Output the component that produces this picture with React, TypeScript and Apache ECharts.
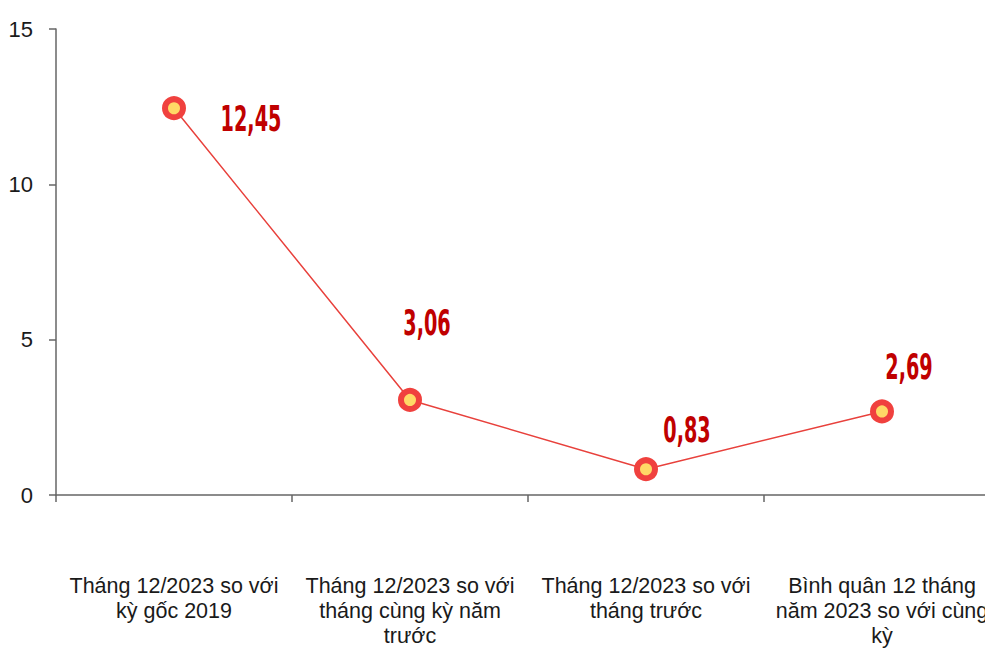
import React, { useEffect, useRef } from "react";
import * as echarts from "echarts";

const categories = [
  "Tháng 12/2023 so với\nkỳ gốc 2019",
  "Tháng 12/2023 so với\ntháng cùng kỳ năm\ntrước",
  "Tháng 12/2023 so với\ntháng trước",
  "Bình quân 12 tháng\nnăm 2023 so với cùng\nkỳ",
];
const values = [12.45, 3.06, 0.83, 2.69];
const valueLabels = ["12,45", "3,06", "0,83", "2,69"];
const yTicks = { min: 0, max: 15, interval: 5 };

// label placement (layout, not data)
const labelOffsets: [number, number][] = [
  [77, 11],
  [17, -77],
  [41, -39],
  [27, -44],
];

export default function App() {
  const ref = useRef<HTMLDivElement>(null);
  useEffect(() => {
    document.body.style.margin = "0";
    document.body.style.overflow = "hidden";
    const chart = echarts.init(ref.current!, undefined, { renderer: "svg" });
    chart.setOption({
      animation: false,
      backgroundColor: "#ffffff",
      grid: { left: 56, top: 29, width: 944, height: 468, containLabel: false },
      xAxis: {
        type: "category",
        data: categories,
        boundaryGap: true,
        axisLine: { lineStyle: { color: "#666666", width: 1.5 } },
        axisTick: { show: true, length: 7, alignWithLabel: false, lineStyle: { color: "#666666", width: 1.5 } },
        axisLabel: {
          interval: 0,
          margin: 78,
          color: "#1a1a1a",
          fontFamily: "Liberation Sans, Arial, sans-serif",
          fontSize: 21.5,
          lineHeight: 25,
          align: "center",
        },
        splitLine: { show: false },
      },
      yAxis: {
        type: "value",
        min: yTicks.min,
        max: yTicks.max,
        interval: yTicks.interval,
        axisLine: { show: true, lineStyle: { color: "#666666", width: 1.5 } },
        axisTick: { show: true, length: 7, lineStyle: { color: "#666666", width: 1.5 } },
        axisLabel: {
          margin: 23,
          color: "#1a1a1a",
          fontFamily: "Liberation Sans, Arial, sans-serif",
          fontSize: 22,
        },
        splitLine: { show: false },
      },
      series: [
        {
          type: "line",
          data: values,
          lineStyle: { color: "#E8413C", width: 1.5 },
          symbol: "circle",
          symbolSize: 18,
          itemStyle: { color: "#FFD966", borderColor: "#F0413E", borderWidth: 6 },
          z: 2,
        },
        {
          type: "custom",
          data: values.map((v, i) => [i, v]),
          z: 3,
          silent: true,
          renderItem: (params: any, api: any) => {
            const i = params.dataIndex;
            const pt = api.coord([api.value(0), api.value(1)]);
            const off = labelOffsets[i];
            return {
              type: "text",
              x: pt[0] + off[0],
              y: pt[1] + off[1],
              scaleX: 0.55,
              scaleY: 1,
              style: {
                text: valueLabels[i],
                fill: "#C00000",
                font: "bold 35px 'DejaVu Sans', sans-serif",
                align: "center",
                verticalAlign: "middle",
              },
            };
          },
        },
      ],
    });
    return () => chart.dispose();
  }, []);
  return (
    <div
      ref={ref}
      style={{ position: "fixed", left: 0, top: 0, width: 1010, height: 648 }}
    />
  );
}
